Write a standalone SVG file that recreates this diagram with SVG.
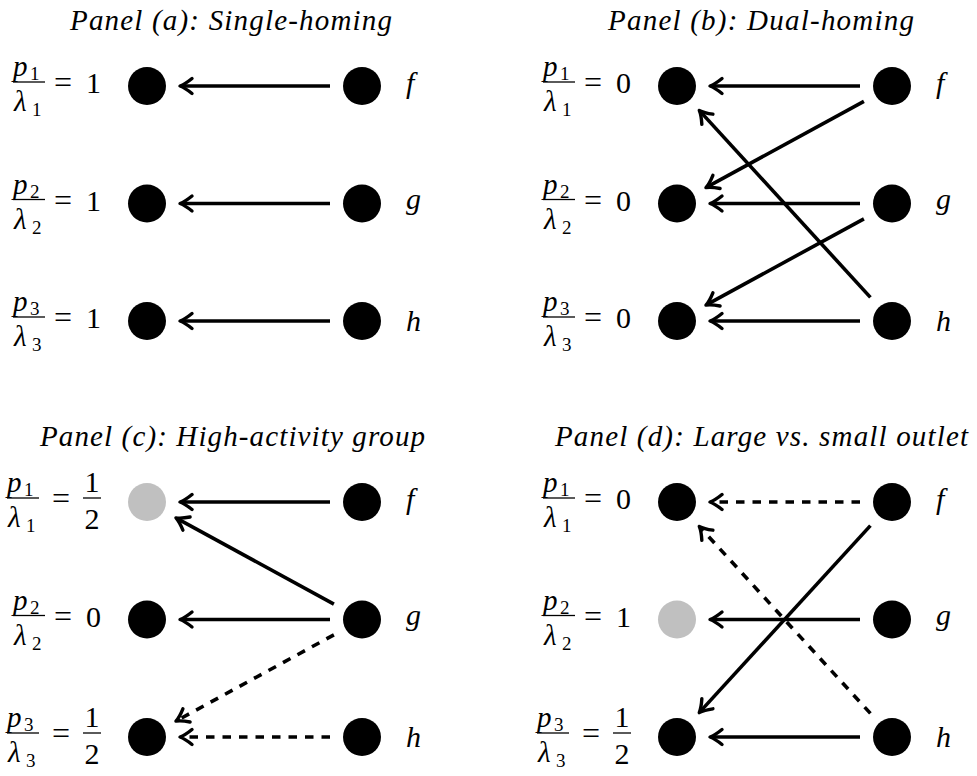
<svg xmlns="http://www.w3.org/2000/svg" width="977" height="776" viewBox="0 0 977 776">
<style>
.title{font-style:italic;font-size:29px}
.m{font-size:30px}
.eq{font-size:32px}
.mi{font-style:italic;font-size:29px}
.sub{font-size:19px}
.lab{font-style:italic;font-size:30px}
.bar{stroke:#000;stroke-width:1.3}
.node{fill:#000}
.gray{fill:#c0c0c0}
.arr{stroke:#000;stroke-width:3.6;fill:none;marker-end:url(#ah)}
.dash{stroke-dasharray:8.5 8}
</style>
<defs>
<marker id="ah" markerUnits="userSpaceOnUse" markerWidth="30" markerHeight="30" viewBox="-20 -15 30 30" refX="-3" refY="0" orient="auto" overflow="visible">
<path d="M-12,-7.5 Q-5,-1.8 0,0 Q-5,1.8 -12,7.5" fill="none" stroke="#000" stroke-width="3.4" stroke-linecap="round" stroke-linejoin="round" stroke-dasharray="none"/>
</marker>
</defs>

<g font-family="Liberation Serif, 'Times New Roman', serif" fill="#000">
<g id="titles">
<text class="title" x="70" y="30" textLength="322">Panel (a): Single-homing</text>
<text class="title" x="608" y="30" textLength="306">Panel (b): Dual-homing</text>
<text class="title" x="40" y="446" textLength="385">Panel (c): High-activity group</text>
<text class="title" x="555" y="446" textLength="413">Panel (d): Large vs. small outlet</text>
</g>

<g id="label-a1" transform="translate(0,86)">
<text class="mi" x="13" y="-10">p</text><text class="sub" x="30" y="-6">1</text>
<line class="bar" x1="13" y1="-4" x2="45" y2="-4"/>
<text class="mi" x="14" y="25">λ</text><text class="sub" x="32" y="30">1</text>
<text class="eq" x="63" y="7" text-anchor="middle">=</text>
<text class="m" x="101" y="7" text-anchor="end">1</text>
</g>
<g id="label-a2" transform="translate(0,203.5)">
<text class="mi" x="13" y="-10">p</text><text class="sub" x="30" y="-6">2</text>
<line class="bar" x1="13" y1="-4" x2="45" y2="-4"/>
<text class="mi" x="14" y="25">λ</text><text class="sub" x="32" y="30">2</text>
<text class="eq" x="63" y="7" text-anchor="middle">=</text>
<text class="m" x="101" y="7" text-anchor="end">1</text>
</g>
<g id="label-a3" transform="translate(0,321)">
<text class="mi" x="13" y="-10">p</text><text class="sub" x="30" y="-6">3</text>
<line class="bar" x1="13" y1="-4" x2="45" y2="-4"/>
<text class="mi" x="14" y="25">λ</text><text class="sub" x="32" y="30">3</text>
<text class="eq" x="63" y="7" text-anchor="middle">=</text>
<text class="m" x="101" y="7" text-anchor="end">1</text>
</g>

<g id="label-b1" transform="translate(530,86)">
<text class="mi" x="13" y="-10">p</text><text class="sub" x="30" y="-6">1</text>
<line class="bar" x1="13" y1="-4" x2="45" y2="-4"/>
<text class="mi" x="14" y="25">λ</text><text class="sub" x="32" y="30">1</text>
<text class="eq" x="63" y="7" text-anchor="middle">=</text>
<text class="m" x="101" y="7" text-anchor="end">0</text>
</g>
<g id="label-b2" transform="translate(530,203.5)">
<text class="mi" x="13" y="-10">p</text><text class="sub" x="30" y="-6">2</text>
<line class="bar" x1="13" y1="-4" x2="45" y2="-4"/>
<text class="mi" x="14" y="25">λ</text><text class="sub" x="32" y="30">2</text>
<text class="eq" x="63" y="7" text-anchor="middle">=</text>
<text class="m" x="101" y="7" text-anchor="end">0</text>
</g>
<g id="label-b3" transform="translate(530,321)">
<text class="mi" x="13" y="-10">p</text><text class="sub" x="30" y="-6">3</text>
<line class="bar" x1="13" y1="-4" x2="45" y2="-4"/>
<text class="mi" x="14" y="25">λ</text><text class="sub" x="32" y="30">3</text>
<text class="eq" x="63" y="7" text-anchor="middle">=</text>
<text class="m" x="101" y="7" text-anchor="end">0</text>
</g>

<g id="label-c1" transform="translate(0,502)">
<text class="mi" x="7" y="-10">p</text><text class="sub" x="24" y="-6">1</text>
<line class="bar" x1="7" y1="-4" x2="39" y2="-4"/>
<text class="mi" x="8" y="25">λ</text><text class="sub" x="26" y="30">1</text>
<text class="eq" x="61" y="7" text-anchor="middle">=</text>
<text class="m" x="92" y="-10" text-anchor="middle">1</text>
<line class="bar" x1="83" y1="-4" x2="101" y2="-4"/>
<text class="m" x="92" y="27" text-anchor="middle">2</text>
</g>
<g id="label-c2" transform="translate(0,619.5)">
<text class="mi" x="13" y="-10">p</text><text class="sub" x="30" y="-6">2</text>
<line class="bar" x1="13" y1="-4" x2="45" y2="-4"/>
<text class="mi" x="14" y="25">λ</text><text class="sub" x="32" y="30">2</text>
<text class="eq" x="63" y="7" text-anchor="middle">=</text>
<text class="m" x="101" y="7" text-anchor="end">0</text>
</g>
<g id="label-c3" transform="translate(0,737)">
<text class="mi" x="7" y="-10">p</text><text class="sub" x="24" y="-6">3</text>
<line class="bar" x1="7" y1="-4" x2="39" y2="-4"/>
<text class="mi" x="8" y="25">λ</text><text class="sub" x="26" y="30">3</text>
<text class="eq" x="61" y="7" text-anchor="middle">=</text>
<text class="m" x="92" y="-10" text-anchor="middle">1</text>
<line class="bar" x1="83" y1="-4" x2="101" y2="-4"/>
<text class="m" x="92" y="27" text-anchor="middle">2</text>
</g>

<g id="label-d1" transform="translate(530,502)">
<text class="mi" x="13" y="-10">p</text><text class="sub" x="30" y="-6">1</text>
<line class="bar" x1="13" y1="-4" x2="45" y2="-4"/>
<text class="mi" x="14" y="25">λ</text><text class="sub" x="32" y="30">1</text>
<text class="eq" x="63" y="7" text-anchor="middle">=</text>
<text class="m" x="101" y="7" text-anchor="end">0</text>
</g>
<g id="label-d2" transform="translate(530,619.5)">
<text class="mi" x="13" y="-10">p</text><text class="sub" x="30" y="-6">2</text>
<line class="bar" x1="13" y1="-4" x2="45" y2="-4"/>
<text class="mi" x="14" y="25">λ</text><text class="sub" x="32" y="30">2</text>
<text class="eq" x="63" y="7" text-anchor="middle">=</text>
<text class="m" x="101" y="7" text-anchor="end">1</text>
</g>
<g id="label-d3" transform="translate(530,737)">
<text class="mi" x="7" y="-10">p</text><text class="sub" x="24" y="-6">3</text>
<line class="bar" x1="7" y1="-4" x2="39" y2="-4"/>
<text class="mi" x="8" y="25">λ</text><text class="sub" x="26" y="30">3</text>
<text class="eq" x="61" y="7" text-anchor="middle">=</text>
<text class="m" x="92" y="-10" text-anchor="middle">1</text>
<line class="bar" x1="83" y1="-4" x2="101" y2="-4"/>
<text class="m" x="92" y="27" text-anchor="middle">2</text>
</g>

<g id="a-L1"><circle class="node" cx="147" cy="86" r="19"/></g>
<g id="a-L2"><circle class="node" cx="147" cy="203.5" r="19"/></g>
<g id="a-L3"><circle class="node" cx="147" cy="321" r="19"/></g>
<g id="a-f"><circle class="node" cx="362" cy="86" r="19"/><text class="lab" x="406" y="93">f</text></g>
<g id="a-g"><circle class="node" cx="362" cy="203.5" r="19"/><text class="lab" x="406" y="209">g</text></g>
<g id="a-h"><circle class="node" cx="362" cy="321" r="19"/><text class="lab" x="406" y="331">h</text></g>

<g id="b-L1"><circle class="node" cx="677" cy="86" r="19"/></g>
<g id="b-L2"><circle class="node" cx="677" cy="203.5" r="19"/></g>
<g id="b-L3"><circle class="node" cx="677" cy="321" r="19"/></g>
<g id="b-f"><circle class="node" cx="892" cy="86" r="19"/><text class="lab" x="936" y="93">f</text></g>
<g id="b-g"><circle class="node" cx="892" cy="203.5" r="19"/><text class="lab" x="936" y="209">g</text></g>
<g id="b-h"><circle class="node" cx="892" cy="321" r="19"/><text class="lab" x="936" y="331">h</text></g>

<g id="c-L1"><circle class="gray" cx="147" cy="502" r="19"/></g>
<g id="c-L2"><circle class="node" cx="147" cy="619.5" r="19"/></g>
<g id="c-L3"><circle class="node" cx="147" cy="737" r="19"/></g>
<g id="c-f"><circle class="node" cx="362" cy="502" r="19"/><text class="lab" x="406" y="509">f</text></g>
<g id="c-g"><circle class="node" cx="362" cy="619.5" r="19"/><text class="lab" x="406" y="625">g</text></g>
<g id="c-h"><circle class="node" cx="362" cy="737" r="19"/><text class="lab" x="406" y="747">h</text></g>

<g id="d-L1"><circle class="node" cx="677" cy="502" r="19"/></g>
<g id="d-L2"><circle class="gray" cx="677" cy="619.5" r="19"/></g>
<g id="d-L3"><circle class="node" cx="677" cy="737" r="19"/></g>
<g id="d-f"><circle class="node" cx="892" cy="502" r="19"/><text class="lab" x="936" y="509">f</text></g>
<g id="d-g"><circle class="node" cx="892" cy="619.5" r="19"/><text class="lab" x="936" y="625">g</text></g>
<g id="d-h"><circle class="node" cx="892" cy="737" r="19"/><text class="lab" x="936" y="747">h</text></g>
</g>

<g id="connectors">
<line class="arr" x1="330" y1="86" x2="183" y2="86"/>
<line class="arr" x1="330" y1="203.5" x2="183" y2="203.5"/>
<line class="arr" x1="330" y1="321" x2="183" y2="321"/>

<line class="arr" x1="860" y1="86" x2="713" y2="86"/>
<line class="arr" x1="860" y1="203.5" x2="713" y2="203.5"/>
<line class="arr" x1="860" y1="321" x2="713" y2="321"/>
<line class="arr" x1="863.9" y1="101.3" x2="708.6" y2="186.2"/>
<line class="arr" x1="863.9" y1="218.8" x2="708.6" y2="303.7"/>
<line class="arr" x1="870.4" y1="297.4" x2="701.3" y2="112.6"/>

<line class="arr" x1="330" y1="502" x2="183" y2="502"/>
<line class="arr" x1="333.9" y1="604.2" x2="178.6" y2="519.3"/>
<line class="arr" x1="330" y1="619.5" x2="183" y2="619.5"/>
<line class="arr dash" x1="333.9" y1="634.8" x2="178.6" y2="719.7"/>
<line class="arr dash" x1="330" y1="737" x2="183" y2="737"/>

<line class="arr dash" x1="860" y1="502" x2="713" y2="502"/>
<line class="arr dash" x1="870.4" y1="713.4" x2="701.3" y2="528.6"/>
<line class="arr" x1="860" y1="619.5" x2="713" y2="619.5"/>
<line class="arr" x1="870.4" y1="525.6" x2="701.3" y2="710.4"/>
<line class="arr" x1="860" y1="737" x2="713" y2="737"/>
</g>
</svg>
